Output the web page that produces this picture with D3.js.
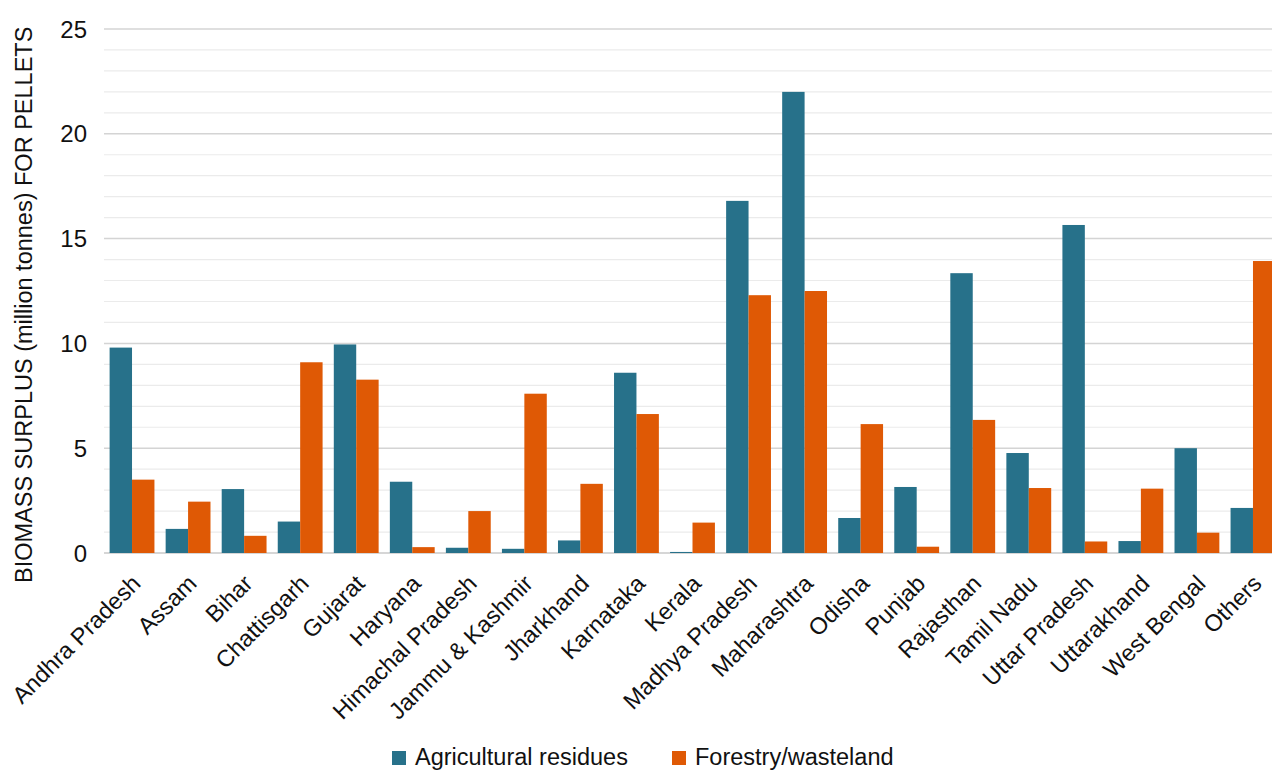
<script src="https://d3js.org/d3.v7.min.js"></script>
<style>
  body { margin: 0; background: #fff; }
  text { font-family: "Liberation Sans", Arial, sans-serif; fill: #111; }
</style>
<svg id="vis"></svg>
<script>
  // Data
  var states = ['Andhra Pradesh', 'Assam', 'Bihar', 'Chattisgarh', 'Gujarat', 'Haryana',
    'Himachal Pradesh', 'Jammu & Kashmir', 'Jharkhand', 'Karnataka', 'Kerala',
    'Madhya Pradesh', 'Maharashtra', 'Odisha', 'Punjab', 'Rajasthan', 'Tamil Nadu',
    'Uttar Pradesh', 'Uttarakhand', 'West Bengal', 'Others']
  var agricultural = [9.8, 1.15, 3.05, 1.5, 9.95, 3.4, 0.25, 0.2, 0.6, 8.6, 0.05,
    16.8, 22.0, 1.67, 3.15, 13.35, 4.77, 15.65, 0.57, 5.0, 2.15]
  var forestry = [3.5, 2.45, 0.82, 9.1, 8.27, 0.28, 2.0, 7.6, 3.3, 6.63, 1.45,
    12.3, 12.5, 6.15, 0.3, 6.35, 3.1, 0.55, 3.07, 0.97, 13.93]
  var seriesNames = ['Agricultural residues', 'Forestry/wasteland']
  var yTicks = [0, 5, 10, 15, 20, 25]

  var colors = ['#27718a', '#df5905']

  var width = 1272, height = 770
  var svg = d3.select('#vis').attr('width', width).attr('height', height)

  var x = d3.scaleBand().domain(states).range([104, 1281]).paddingInner(0.2).paddingOuter(0.1)
  var sub = d3.scaleBand().domain(seriesNames).range([0, x.bandwidth()])
  var y = d3.scaleLinear().domain([0, 25]).range([553, 29])

  // minor gridlines every 1
  svg.append('g').selectAll('line')
    .data(d3.range(1, 26).filter(function(d) { return d % 5 !== 0 }))
    .enter().append('line')
    .attr('x1', 104).attr('x2', width)
    .attr('y1', function(d) { return y(d) }).attr('y2', function(d) { return y(d) })
    .attr('stroke', '#ebebeb').attr('stroke-width', 1.2)

  // major gridlines
  svg.append('g').selectAll('line')
    .data(yTicks)
    .enter().append('line')
    .attr('x1', 104).attr('x2', width)
    .attr('y1', function(d) { return y(d) }).attr('y2', function(d) { return y(d) })
    .attr('stroke', function(d) { return d === 0 ? '#c8c8c8' : '#d4d4d4' })
    .attr('stroke-width', 1.5)

  // y tick labels
  svg.append('g').selectAll('text')
    .data(yTicks)
    .enter().append('text')
    .attr('x', 87).attr('y', function(d) { return y(d) + 8.5 })
    .attr('text-anchor', 'end')
    .style('font-size', '24px')
    .text(function(d) { return d })

  // y axis title
  svg.append('text')
    .attr('transform', 'translate(32,583) rotate(-90)')
    .attr('text-anchor', 'start')
    .style('font-size', '23.5px')
    .text('BIOMASS SURPLUS (million tonnes) FOR PELLETS')

  // bars
  var groups = svg.append('g').selectAll('g')
    .data(states)
    .enter().append('g')
    .attr('transform', function(d) { return 'translate(' + x(d) + ',0)' })

  groups.selectAll('rect')
    .data(function(d, i) { return [agricultural[i], forestry[i]] })
    .enter().append('rect')
    .attr('x', function(d, j) { return sub(seriesNames[j]) })
    .attr('width', sub.bandwidth())
    .attr('y', function(d) { return y(d) })
    .attr('height', function(d) { return y(0) - y(d) })
    .attr('fill', function(d, j) { return colors[j] })

  // x labels
  svg.append('g').selectAll('text')
    .data(states)
    .enter().append('text')
    .attr('transform', function(d) {
      return 'translate(' + (x(d) + x.bandwidth() / 2 + 10) + ',585) rotate(-45)'
    })
    .attr('text-anchor', 'end')
    .style('font-size', '23.5px')
    .text(function(d) { return d })

  // legend
  var legendX = [392, 672]
  var legend = svg.append('g').selectAll('g')
    .data(seriesNames)
    .enter().append('g')
    .attr('transform', function(d, i) { return 'translate(' + legendX[i] + ',751)' })
  legend.append('rect')
    .attr('width', 14).attr('height', 14)
    .attr('fill', function(d, i) { return colors[i] })
  legend.append('text')
    .attr('x', 23).attr('y', 14)
    .style('font-size', '23.5px')
    .text(function(d) { return d })
</script>
